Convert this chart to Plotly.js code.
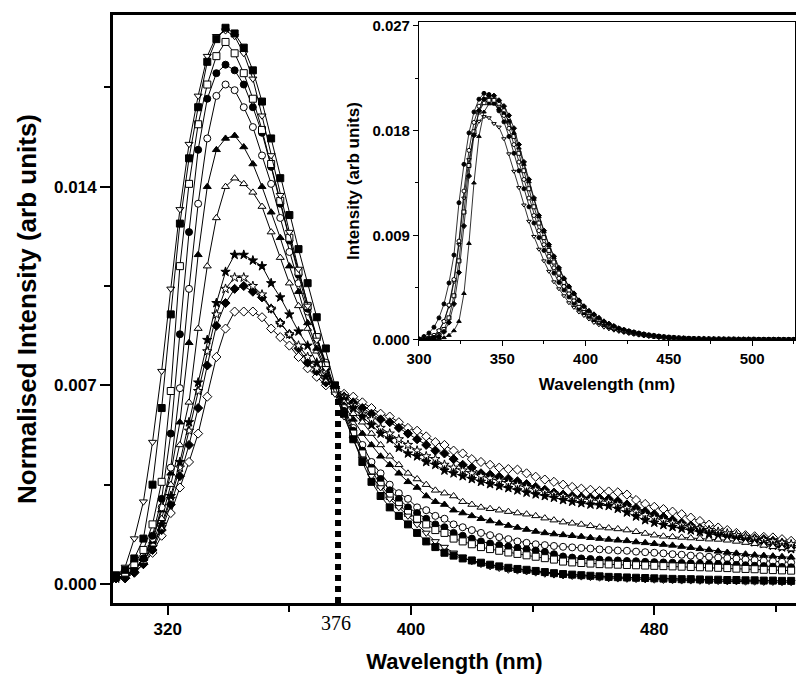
<!DOCTYPE html>
<html>
<head>
<meta charset="utf-8">
<script src="https://cdn.plot.ly/plotly-3.0.1.min.js"></script>
<style>html,body{margin:0;padding:0;background:#fff;}#chart{width:796px;height:675px;}</style>
</head>
<body>
<div id="chart"></div>
<script>
// ---------- main panel: normalised spectra ----------
const wavelength = [303,306,309,312,315,318,321,324,327,330,333,336,339,342,345,348,351,354,357,360,363,366,369,372,375,378,381,384,387,390,393,396,399,402,405,408,411,414,417,420,423,426,429,432,435,438,441,444,447,450,453,456,459,462,465,468,471,474,477,480,483,486,489,492,495,498,501,504,507,510,513,516,519,522,525];

const sqFilled = [0.0003,0.0005,0.0009,0.0016,0.0035,0.0062,0.0095,0.0127,0.0150,0.0168,
0.0184,0.0192,0.0196,0.0194,0.0189,0.0181,0.0170,0.0157,0.0143,0.0130,
0.0118,0.0106,0.0094,0.0083,0.0070,0.0060,0.0051,0.0043,0.0036,0.0031,
0.0027,0.0024,0.0021,0.0018,0.0015,0.0013,0.0011,0.0010,0.0009,0.00083,
0.00075,0.00068,0.00062,0.00057,0.00053,0.0005,0.00046,0.00042,0.00038,0.00035,
0.00033,0.00031,0.00029,0.00027,0.00025,0.00024,0.00023,0.00022,0.00021,0.0002,
0.00019,0.00018,0.00017,0.00017,0.00016,0.00015,0.00015,0.00014,0.00014,0.00013,
0.00013,0.00012,0.00012,0.00011,0.00011];

const triDownOpen = [0.0003,0.0006,0.0016,0.0029,0.0050,0.0075,0.0104,0.0132,0.0155,0.0172,
0.0186,0.0193,0.0195,0.0193,0.0187,0.0178,0.0165,0.0151,0.0137,0.0124,
0.0111,0.0098,0.0086,0.0076,0.0067,0.0059,0.0051,0.0044,0.0038,0.0034,
0.0030,0.0027,0.0024,0.0021,0.0018,0.0015,0.0013,0.0011,0.00095,0.0008,
0.0007,0.00062,0.00056,0.0005,0.00047,0.00044,0.0004,0.00036,0.00033,0.0003,
0.00028,0.00026,0.00024,0.00022,0.0002,0.00019,0.00018,0.00017,0.00016,0.00015,
0.00014,0.00013,0.00012,0.00012,0.00011,0.0001,0.0001,0.00009,0.00009,0.00008,
0.00008,0.00007,0.00007,0.00006,0.00006];

const sqOpen = [0.0003,0.0004,0.0007,0.0012,0.0021,0.0036,0.0068,0.0112,0.0141,0.0162,
0.0176,0.0186,0.0191,0.0187,0.0180,0.0171,0.0160,0.0148,0.0135,0.0122,
0.0110,0.0098,0.0087,0.0077,0.0068,0.0060,0.0053,0.0046,0.0040,0.0035,
0.0031,0.0028,0.0025,0.0023,0.0021,0.0019,0.0018,0.0016,0.0015,0.0014,
0.0013,0.00123,0.00117,0.00111,0.00106,0.00101,0.00096,0.00091,0.00086,0.00079,
0.00076,0.00074,0.00072,0.0007,0.00069,0.00068,0.00067,0.00066,0.00065,0.00064,
0.00063,0.00062,0.00061,0.0006,0.00059,0.00058,0.00057,0.00056,0.00054,0.00053,
0.00052,0.0005,0.00049,0.00048,0.00047];

const circFilled = [0.0002,0.0003,0.0005,0.0009,0.0017,0.0030,0.0053,0.0088,0.0124,0.0153,
0.0171,0.0180,0.0183,0.0181,0.0176,0.0168,0.0159,0.0147,0.0134,0.0121,
0.0109,0.0097,0.0087,0.0077,0.0068,0.0061,0.0054,0.0047,0.0041,0.0037,
0.0033,0.0030,0.0027,0.0025,0.0023,0.0021,0.0020,0.0018,0.0017,0.0016,
0.0015,0.00143,0.00137,0.00132,0.00127,0.00122,0.00118,0.00113,0.00105,0.00097,
0.00093,0.0009,0.00088,0.00086,0.00084,0.00083,0.00081,0.0008,0.00078,0.00077,
0.00076,0.00075,0.00074,0.00073,0.00072,0.00071,0.0007,0.00069,0.00067,0.00066,
0.00064,0.00063,0.00061,0.0006,0.00059];

const circOpen = [0.0002,0.0003,0.0005,0.0009,0.0016,0.0027,0.0041,0.0069,0.0104,0.0134,
0.0157,0.0172,0.0176,0.0174,0.0168,0.0161,0.0151,0.0141,0.0129,0.0117,
0.0106,0.0096,0.0087,0.0078,0.0069,0.0062,0.0055,0.0049,0.0043,0.0039,
0.0035,0.0032,0.0030,0.0027,0.0026,0.0024,0.0023,0.0021,0.0020,0.0019,
0.0018,0.00172,0.00165,0.00158,0.0015,0.00145,0.0014,0.00137,0.00134,0.00131,
0.00129,0.00127,0.00125,0.00122,0.0012,0.00118,0.00117,0.00114,0.00112,0.0011,
0.00108,0.00105,0.00103,0.001,0.00098,0.00096,0.00093,0.00091,0.00089,0.00086,
0.00084,0.00082,0.0008,0.00078,0.00076];

const triUpFilled = [0.0002,0.0003,0.0005,0.0009,0.0015,0.0026,0.0039,0.0057,0.0085,0.0116,
0.0140,0.0153,0.0157,0.0158,0.0154,0.0148,0.0140,0.0131,0.0122,0.0112,
0.0103,0.0092,0.0083,0.0076,0.0069,0.0063,0.0058,0.0053,0.0049,0.0045,
0.0042,0.0039,0.0036,0.0034,0.0031,0.0029,0.0028,0.0026,0.0025,0.0024,
0.0023,0.00222,0.00214,0.00206,0.00199,0.00192,0.00185,0.0018,0.00176,0.00173,
0.0017,0.00167,0.00163,0.0016,0.00157,0.00154,0.00152,0.00148,0.00145,0.00142,
0.00139,0.00136,0.00132,0.00128,0.00124,0.0012,0.00115,0.00111,0.00108,0.00105,
0.00102,0.001,0.00098,0.00096,0.00094];

const triUpOpen = [0.0002,0.0003,0.0005,0.0008,0.0014,0.0023,0.0035,0.0049,0.0064,0.0090,
0.0112,0.0129,0.0140,0.0143,0.0141,0.0138,0.0133,0.0124,0.0115,0.0106,
0.0098,0.0090,0.0082,0.0075,0.0069,0.0064,0.0060,0.0057,0.0053,0.0049,
0.0045,0.0042,0.0039,0.0037,0.0035,0.0033,0.0032,0.0031,0.0029,0.0028,
0.0027,0.00265,0.0026,0.00255,0.0025,0.00246,0.0024,0.00232,0.00225,0.00218,
0.00214,0.0021,0.00205,0.002,0.00197,0.00194,0.0019,0.00184,0.00178,0.00172,
0.00168,0.00166,0.00164,0.00162,0.0016,0.00158,0.00157,0.00154,0.0015,0.00146,
0.00142,0.00136,0.00131,0.00127,0.00123];

const starFilled = [0.0002,0.0003,0.0005,0.0008,0.0013,0.0021,0.0031,0.0043,0.0057,0.0071,
0.0086,0.0099,0.0110,0.0116,0.0116,0.0114,0.0112,0.0106,0.0101,0.0095,
0.0089,0.0084,0.0078,0.0073,0.0069,0.0065,0.0062,0.0059,0.0056,0.0053,
0.0051,0.0048,0.0046,0.0045,0.0043,0.0042,0.0040,0.0039,0.0038,0.0037,
0.0036,0.00352,0.00345,0.00338,0.0033,0.00322,0.00316,0.0031,0.00304,0.00296,
0.0029,0.00285,0.0028,0.00278,0.00275,0.00265,0.00252,0.00238,0.00225,0.00216,
0.00208,0.00201,0.00195,0.00189,0.00183,0.00177,0.00171,0.00165,0.00159,0.00153,
0.00147,0.00141,0.00135,0.00129,0.00123];

const starOpen = [0.0002,0.0003,0.0005,0.0008,0.0013,0.0020,0.0030,0.0041,0.0054,0.0068,
0.0082,0.0095,0.0104,0.0108,0.0108,0.0105,0.0102,0.0097,0.0092,0.0088,
0.0084,0.0080,0.0076,0.0072,0.0069,0.0066,0.0063,0.0060,0.0058,0.0055,
0.0053,0.0051,0.0049,0.0047,0.0045,0.0044,0.0042,0.0041,0.0040,0.0039,
0.0038,0.00372,0.00364,0.00356,0.00348,0.0034,0.00332,0.00325,0.00318,0.0031,
0.00304,0.003,0.00297,0.00294,0.0029,0.0028,0.00268,0.00255,0.00243,0.00233,
0.00224,0.00216,0.00209,0.00202,0.00196,0.0019,0.00184,0.00178,0.00172,0.00166,
0.0016,0.00155,0.0015,0.00145,0.0014];

const diaFilled = [0.0002,0.0002,0.0004,0.0007,0.0012,0.0019,0.0028,0.0038,0.0049,0.0062,
0.0077,0.0091,0.0099,0.0104,0.0105,0.0103,0.0101,0.0097,0.0092,0.0088,
0.0083,0.0078,0.0075,0.0071,0.0069,0.0066,0.0064,0.0062,0.0060,0.0058,
0.0057,0.0055,0.0053,0.0051,0.0049,0.0047,0.0046,0.0044,0.0042,0.0041,
0.0039,0.00385,0.00378,0.00371,0.00362,0.00352,0.00342,0.00332,0.00322,0.00315,
0.0031,0.00306,0.00304,0.00302,0.003,0.00292,0.0028,0.00268,0.00256,0.00246,
0.00236,0.00226,0.00216,0.00206,0.00196,0.00186,0.00178,0.00172,0.00167,0.00163,
0.0016,0.00158,0.00152,0.00144,0.00135];

const diaOpen = [0.0002,0.0002,0.0004,0.0007,0.0011,0.0017,0.0025,0.0034,0.0043,0.0053,
0.0066,0.0080,0.0090,0.0096,0.0096,0.0096,0.0094,0.0090,0.0087,0.0084,
0.0080,0.0076,0.0073,0.0070,0.0069,0.0067,0.0066,0.0064,0.0062,0.0060,
0.0059,0.0057,0.0055,0.0054,0.0052,0.0050,0.0049,0.0047,0.0046,0.0044,
0.0043,0.0042,0.0041,0.00405,0.00403,0.0039,0.00378,0.00368,0.0036,0.0035,
0.00342,0.00336,0.00332,0.00328,0.00326,0.00323,0.00315,0.00296,0.00282,0.00272,
0.00264,0.00255,0.00246,0.00234,0.00222,0.00209,0.00199,0.0019,0.0018,0.00172,
0.00168,0.00166,0.00164,0.00158,0.00152];

// isosbestic point marker
const isoWavelength = 376;
const isoIntensity = 0.0067;

// ---------- inset: raw intensity ----------
const insetWavelength = [300,303,306,309,312,315,318,321,324,327,330,333,336,339,342,345,348,351,354,357,360,363,366,369,372,375,378,381,384,387,390,393,396,399,402,405,408,411,414,417,420,423,426,429,432,435,438,441,444,447,450,453,456,459,462,465,468,471,474,477,480,483,486,489,492,495,498,501,504,507,510,513,516,519,522,525];

const insetA = [0.0001,0.0003,0.0006,0.0011,0.0019,0.0031,0.0049,0.0073,0.0118,0.0151,
0.0178,0.0196,0.0207,0.0212,0.0211,0.02035,0.0197,0.01875,0.0175,0.01605,
0.01455,0.013,0.01145,0.01005,0.0088,0.0077,0.0067,0.00575,0.00495,0.0043,
0.0037,0.00315,0.0027,0.00235,0.00205,0.00175,0.0015,0.0013,0.0011,0.00094,
0.00083,0.00072,0.00063,0.00054,0.00047,0.0004,0.00035,0.0003,0.00025,0.00022,
0.00019,0.00016,0.00014,0.00012,0.0001,0.00009,0.00009,0.00008,0.00007,0.00007,
0.00007,0.00006,0.00006,0.00006,0.00005,0.00005,0.00005,0.00005,0.00004,0.00004,
0.00004,0.00004,0.00004,0.00003,0.00003,0.00003];

const insetB = [0.00005,0.0001,0.0002,0.0004,0.0008,0.0016,0.0030,0.0052,0.0085,0.0128,
0.0163,0.0187,0.0201,0.0207,0.0208,0.0206,0.0201,0.0193,0.0182,0.0168,
0.0153,0.0138,0.0122,0.0107,0.0094,0.0082,0.0072,0.0062,0.0053,0.0046,
0.0040,0.0034,0.0029,0.0025,0.0022,0.0019,0.0016,0.0014,0.0012,0.0010,
0.00088,0.00077,0.00067,0.00058,0.0005,0.00043,0.00037,0.00032,0.00027,0.00023,
0.0002,0.00017,0.00015,0.00013,0.00011,0.0001,0.00009,0.00008,0.00008,0.00007,
0.00007,0.00006,0.00006,0.00006,0.00005,0.00005,0.00005,0.00005,0.00004,0.00004,
0.00004,0.00004,0.00004,0.00003,0.00003,0.00003];

const insetC = [0.00003,0.00006,0.0001,0.0002,0.0004,0.0009,0.0019,0.0038,0.0068,0.0110,
0.0150,0.0179,0.0196,0.0204,0.0206,0.0206,0.02035,0.0197,0.01875,0.0175,
0.01605,0.01455,0.013,0.01145,0.01005,0.0088,0.0077,0.0067,0.00575,0.00495,
0.0043,0.0037,0.00315,0.0027,0.00235,0.00205,0.00175,0.0015,0.0013,0.0011,
0.00094,0.00083,0.00072,0.00063,0.00054,0.00047,0.0004,0.00035,0.0003,0.00025,
0.00022,0.00019,0.00016,0.00014,0.00012,0.0001,0.00009,0.00008,0.00008,0.00007,
0.00007,0.00006,0.00006,0.00006,0.00005,0.00005,0.00005,0.00005,0.00004,0.00004,
0.00004,0.00004,0.00004,0.00003,0.00003,0.00003];

const insetD = [0.00003,0.00005,0.0001,0.0002,0.0003,0.0007,0.0015,0.0031,0.0058,0.0098,
0.0141,0.0176,0.0197,0.0207,0.0210,0.0210,0.0206,0.0201,0.0193,0.0182,
0.0168,0.0153,0.0138,0.0122,0.0107,0.0094,0.0082,0.0072,0.0062,0.0053,
0.0046,0.0040,0.0034,0.0029,0.0025,0.0022,0.0019,0.0016,0.0014,0.0012,
0.0010,0.00088,0.00077,0.00067,0.00058,0.0005,0.00043,0.00037,0.00032,0.00027,
0.00023,0.0002,0.00017,0.00015,0.00013,0.00011,0.0001,0.00009,0.00008,0.00008,
0.00007,0.00007,0.00006,0.00006,0.00005,0.00005,0.00005,0.00005,0.00004,0.00004,
0.00004,0.00004,0.00004,0.00003,0.00003,0.00003];

const insetE = [0.00002,0.00003,0.00005,0.0001,0.0001,0.0002,0.0004,0.0008,0.0016,0.0040,
0.0083,0.0135,0.0175,0.0196,0.0203,0.0203,0.0199,0.0195,0.0188,0.0178,
0.0165,0.0151,0.0136,0.0121,0.0106,0.0093,0.0081,0.0071,0.0061,0.0053,
0.0046,0.0040,0.0034,0.0029,0.0025,0.0022,0.0019,0.0016,0.0014,0.0012,
0.0010,0.00088,0.00077,0.00067,0.00058,0.0005,0.00043,0.00037,0.00032,0.00027,
0.00023,0.0002,0.00017,0.00015,0.00013,0.00011,0.0001,0.00009,0.00008,0.00008,
0.00007,0.00007,0.00006,0.00006,0.00005,0.00005,0.00005,0.00005,0.00004,0.00004,
0.00004,0.00004,0.00004,0.00003,0.00003,0.00003];

const insetF = [0.00005,0.0001,0.0002,0.0004,0.0008,0.0016,0.0029,0.0050,0.0082,0.0122,
0.0155,0.0177,0.0188,0.0192,0.0191,0.0186,0.0183,0.0173,0.0160,0.0145,
0.0131,0.0116,0.0102,0.0089,0.0078,0.0068,0.0059,0.0050,0.0044,0.0038,
0.0032,0.0028,0.0024,0.0021,0.0018,0.0015,0.0013,0.0011,0.00095,0.00084,
0.00073,0.00064,0.00055,0.00048,0.00041,0.00035,0.0003,0.00026,0.00022,0.00019,
0.00016,0.00014,0.00012,0.0001,0.00009,0.00008,0.00008,0.00007,0.00007,0.00006,
0.00006,0.00006,0.00005,0.00005,0.00005,0.00005,0.00004,0.00004,0.00004,0.00004,
0.00004,0.00003,0.00003,0.00003,0.00003,0.00003];

// ---------- styling ----------
const FONT = 'Liberation Sans, Arial, Helvetica, sans-serif';

function series(x, y, symbol, filled, size, xa, ya, lw) {
  return {
    type: 'scatter', mode: 'lines+markers', x: x, y: y,
    xaxis: xa, yaxis: ya, showlegend: false, hoverinfo: 'skip',
    line: {color: '#000', width: lw},
    marker: {symbol: symbol, size: size, color: filled ? '#000' : '#fff',
             line: {color: '#000', width: 1}}
  };
}

const mainSeries = [
  [diaOpen, 'diamond', false],
  [diaFilled, 'diamond', true],
  [starOpen, 'star', false],
  [starFilled, 'star', true],
  [triUpOpen, 'triangle-up', false],
  [triUpFilled, 'triangle-up', true],
  [circOpen, 'circle', false],
  [circFilled, 'circle', true],
  [sqOpen, 'square', false],
  [triDownOpen, 'triangle-down', false],
  [sqFilled, 'square', true]
];

const insetSeries = [
  [insetF, 'triangle-down', false],
  [insetA, 'circle', true],
  [insetB, 'circle', false],
  [insetC, 'square', false],
  [insetD, 'diamond', true],
  [insetE, 'triangle-up', true]
];

const traces = [];
mainSeries.forEach(s => traces.push(series(wavelength, s[0], s[1], s[2], 7, 'x', 'y', 1)));
insetSeries.forEach(s => traces.push(series(insetWavelength, s[0], s[1], s[2], 4, 'x2', 'y2', 0.8)));

const layout = {
  width: 796, height: 675,
  margin: {l: 113, r: 0, t: 15, b: 72, pad: 0},
  paper_bgcolor: '#fff', plot_bgcolor: 'rgba(0,0,0,0)',
  font: {family: FONT, color: '#000'},
  xaxis: {
    domain: [0, 1], range: [302, 526.6],
    tick0: 320, dtick: 80, ticks: 'outside', ticklen: 9, tickwidth: 2, tickcolor: '#000',
    minor: {tick0: 320, dtick: 40, ticks: 'outside', ticklen: 6, tickwidth: 2, tickcolor: '#000'},
    showline: true, linewidth: 3, linecolor: '#000', mirror: true,
    showgrid: false, zeroline: false,
    tickfont: {family: FONT, size: 17, weight: 'bold'},
    title: {text: 'Wavelength (nm)', font: {family: FONT, size: 22, weight: 'bold'}, standoff: 16}
  },
  yaxis: {
    domain: [0, 1], range: [-0.00067, 0.02005],
    tick0: 0, dtick: 0.007, tickformat: '.3f',
    ticks: 'outside', ticklen: 10, tickwidth: 2, tickcolor: '#000',
    minor: {tick0: 0, dtick: 0.0035, ticks: 'outside', ticklen: 6, tickwidth: 2, tickcolor: '#000'},
    showline: true, linewidth: 3, linecolor: '#000', mirror: false,
    showgrid: false, zeroline: false,
    tickfont: {family: FONT, size: 17, weight: 'bold'},
    title: {text: 'Normalised Intensity (arb units)', font: {family: FONT, size: 26, weight: 'bold'}, standoff: 10}
  },
  xaxis2: {
    anchor: 'y2', domain: [0.448, 0.9985], range: [300, 525.7],
    tick0: 300, dtick: 50, ticks: 'outside', ticklen: 5, tickwidth: 1, tickcolor: '#000',
    minor: {tick0: 300, dtick: 25, ticks: 'outside', ticklen: 3, tickwidth: 1, tickcolor: '#000'},
    showline: true, linewidth: 1, linecolor: '#000', mirror: true,
    showgrid: false, zeroline: false,
    tickfont: {family: FONT, size: 15, weight: 'bold'},
    title: {text: 'Wavelength (nm)', font: {family: FONT, size: 17, weight: 'bold'}, standoff: 12}
  },
  yaxis2: {
    anchor: 'x2', domain: [0.4473, 0.988], range: [0, 0.02733],
    tick0: 0, dtick: 0.009, tickformat: '.3f',
    ticks: 'outside', ticklen: 5, tickwidth: 1, tickcolor: '#000',
    minor: {tick0: 0, dtick: 0.0045, ticks: 'outside', ticklen: 3, tickwidth: 1, tickcolor: '#000'},
    showline: true, linewidth: 1, linecolor: '#000', mirror: true,
    showgrid: false, zeroline: false,
    tickfont: {family: FONT, size: 15, weight: 'bold'},
    title: {text: 'Intensity (arb units)', font: {family: FONT, size: 17, weight: 'bold'}, standoff: 8}
  },
  shapes: [{
    type: 'line', xref: 'x', yref: 'y',
    x0: isoWavelength, x1: isoWavelength, y0: -0.00067, y1: isoIntensity,
    line: {color: '#000', width: 6, dash: '6px,5px'}
  }],
  annotations: [{
    xref: 'x', yref: 'paper', x: isoWavelength - 0.7, y: -0.034,
    text: String(isoWavelength), showarrow: false, xanchor: 'center', yanchor: 'middle',
    font: {family: 'Liberation Serif, Times New Roman, serif', size: 20, color: '#000'}
  }]
};

Plotly.newPlot('chart', traces, layout, {staticPlot: true, displayModeBar: false});
</script>
</body>
</html>
